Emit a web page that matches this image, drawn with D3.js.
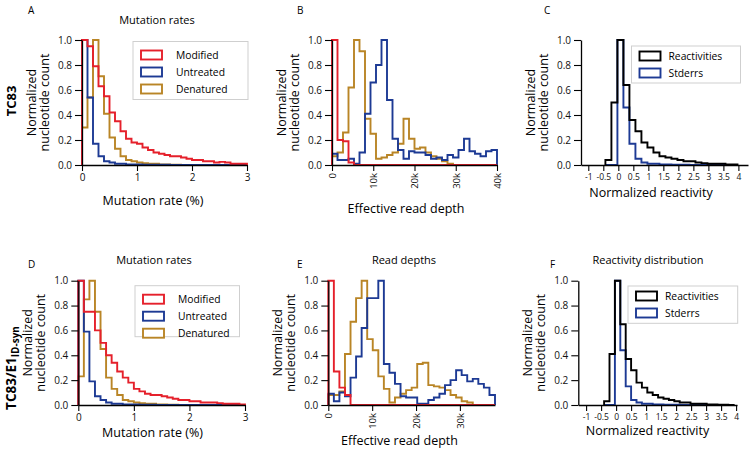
<!DOCTYPE html>
<html><head><meta charset="utf-8">
<script src="https://cdn.jsdelivr.net/npm/d3@7"></script>
<style>
body{margin:0;background:#fff;}
svg{display:block;font-family:"Open Sans",sans-serif;}
</style></head>
<body><svg id="chart" width="750" height="454"></svg>
<script>
// ---------------- DATA ----------------
const seriesNames = ["Modified", "Untreated", "Denatured"];
const reactNames = ["Reactivities", "Stderrs"];
const yTicks = [0, 0.2, 0.4, 0.6, 0.8, 1.0];
const mutTicks = [0, 1, 2, 3];
const depthTicksB = [0, 10000, 20000, 30000, 40000];
const depthTicksE = [0, 10000, 20000, 30000];
const reactTicks = [-1, -0.5, 0, 0.5, 1, 1.5, 2, 2.5, 3, 3.5, 4];

// Panel A (TC83 mutation rates, bins of 0.1 %)
const mutBinStart = 0, mutBinWidth = 0.1;
const modA = [1.0,0.95,0.79,0.63,0.55,0.42,0.35,0.27,0.21,0.18,0.17,0.14,0.12,0.10,0.09,0.08,0.07,0.07,0.06,0.05,0.04,0.04,0.03,0.03,0.02,0.025,0.02,0.01,0.01,0.01];
const untA = [1.0,0.54,0.17,0.07,0.03,0.02,0.01,0.01,0.005,0.005,0.004,0.003,0.003,0.002,0.002,0.002,0.001,0.001,0.001,0.001,0.001,0,0,0,0,0,0,0,0,0];
const denA = [0.30,0.54,1.0,0.71,0.41,0.22,0.13,0.07,0.04,0.03,0.02,0.015,0.01,0.01,0.005,0.005,0.003,0.002,0.001,0.001,0,0,0,0,0,0,0,0,0,0];

// Panel D (TC83/E1 ID-syn mutation rates)
const modD = [1.0,0.75,0.75,0.60,0.50,0.40,0.34,0.27,0.22,0.18,0.13,0.11,0.09,0.08,0.08,0.07,0.06,0.05,0.04,0.04,0.03,0.03,0.02,0.02,0.02,0.015,0.01,0.01,0.01,0.005];
const untD = [1.0,0.59,0.19,0.07,0.04,0.02,0.01,0.01,0.005,0.005,0.004,0.003,0.002,0.002,0.001,0.001,0.001,0,0,0,0,0,0,0,0,0,0,0,0,0];
const denD = [0.23,0.85,1.0,0.75,0.45,0.22,0.13,0.08,0.04,0.03,0.02,0.015,0.01,0.01,0.005,0.005,0.003,0.002,0.001,0,0,0,0,0,0,0,0,0,0,0];

// Panel B (TC83 effective read depth, 30 bins over 0-40k)
const depthBinStartB = 0, depthBinWidthB = 40000 / 30;
const modB = [1.0,0.2,0.19,0.02,0,0,0,0,0,0,0,0,0,0,0,0,0,0,0,0,0,0,0,0,0,0,0,0,0,0];
const untB = [0.09,0.04,0.04,0.05,0.01,0.1,0.41,0.66,0.8,1.0,0.52,0.21,0.12,0.05,0.11,0.1,0.1,0.08,0.05,0.06,0.04,0.08,0.06,0.12,0.21,0.11,0.09,0.07,0.11,0.12];
const denB = [0.07,0.1,0.26,0.62,1.0,0.91,0.37,0.25,0.05,0.06,0.08,0.1,0.17,0.37,0.21,0.13,0.14,0.1,0.07,0.05,0.03,0.01,0,0,0,0,0,0,0,0];

// Panel E (TC83/E1 read depths, 30 bins over 0-38k)
const depthBinStartE = 0, depthBinWidthE = 38000 / 30;
const modE = [1.0,0.27,0.14,0.08,0,0,0,0,0,0,0,0,0,0,0,0,0,0,0,0,0,0,0,0,0,0,0,0,0,0];
const untE = [0.09,0.03,0.1,0.07,0.22,0.39,0.62,0.86,0.86,1.0,0.33,0.26,0.17,0.07,0.06,0.06,0.01,0.01,0.04,0.06,0.09,0.16,0.2,0.28,0.24,0.19,0.21,0.17,0.14,0.08];
const denE = [0.08,0.08,0.11,0.41,0.67,0.86,1.0,0.53,0.44,0.23,0.13,0.02,0.06,0.09,0.12,0.14,0.33,0.34,0.16,0.15,0.14,0.12,0.08,0.06,0.03,0.02,0,0,0,0];

// Panel C (TC83 normalized reactivity)
const reactBinStartC = -0.43, reactBinWidthC = 0.2;
const reactC = [0.04,0.5,1.0,0.64,0.36,0.27,0.18,0.14,0.1,0.07,0.06,0.05,0.04,0.03,0.03,0.02,0.015,0.01,0.01,0.01,0.005,0.005];
const stderrC = [0,0,1.0,0.46,0.17,0.05,0.02,0.01,0.01,0.005,0.005,0.003,0.002,0.002,0.001,0.001,0,0,0,0,0,0];

// Panel F (TC83/E1 reactivity distribution)
const reactBinStartF = -0.40, reactBinWidthF = 0.18;
const reactF = [0.03,0.41,1.0,0.65,0.37,0.28,0.18,0.14,0.1,0.08,0.06,0.05,0.04,0.03,0.02,0.02,0.01,0.01,0.01,0.005,0.005,0.003,0.002,0.001];
const stderrF = [0,0,1.0,0.44,0.15,0.04,0.02,0.01,0.01,0.005,0.005,0.003,0.002,0.002,0.001,0.001,0,0,0,0,0,0,0,0];

// ---------------- STYLE / LAYOUT ----------------
const C_RED = "#e5202b", C_BLUE = "#1d3a94", C_GOLD = "#b98526", C_BLACK = "#000";
const svg = d3.select("#chart");

function histPath(x, y, start, width, vals) {
  const pts = [[start, 0]];
  vals.forEach((v, i) => pts.push([start + i * width, v]));
  pts.push([start + vals.length * width, vals[vals.length - 1]]);
  pts.push([start + vals.length * width, 0]);
  return d3.line().x(d => x(d[0])).y(d => y(d[1])).curve(d3.curveStepAfter)(pts);
}

function panel(opt) {
  const g = svg.append("g");
  const x = d3.scaleLinear().domain(opt.domain).range([opt.x0, opt.x1]);
  const y = d3.scaleLinear().domain([0, 1]).range([opt.yb, opt.yt]);

  opt.series.forEach(s => {
    g.append("path").attr("d", histPath(x, y, opt.binStart, opt.binWidth, s.values))
      .attr("fill", "none").attr("stroke", s.color).attr("stroke-width", 1.9)
      .attr("stroke-linejoin", "miter");
  });

  const ya = g.append("g").attr("transform", `translate(${opt.x0},0)`)
    .call(d3.axisLeft(y).tickValues(yTicks).tickFormat(d3.format(".1f")).tickSize(7).tickPadding(3).tickSizeOuter(0));
  ya.selectAll("text").attr("font-size", 10).attr("font-family", "Open Sans").attr("fill", "#111");
  const xa = g.append("g").attr("transform", `translate(0,${opt.yb})`)
    .call(d3.axisBottom(x).tickValues(opt.ticks).tickFormat(opt.fmt).tickSize(6).tickSizeOuter(0));
  xa.selectAll("text").attr("font-size", opt.tickFont || 10).attr("font-family", "Open Sans").attr("fill", "#111");
  if (opt.rotateTicks) {
    xa.selectAll("text").attr("transform", "rotate(-90)").attr("text-anchor", "end")
      .attr("x", -8).attr("y", 0).attr("dy", "0.35em");
  }
  [ya, xa].forEach(a => {
    a.select(".domain").attr("stroke", "#000").attr("stroke-width", 1.3);
    a.selectAll(".tick line").attr("stroke", "#000").attr("stroke-width", 1.1);
  });

  const yc = (opt.yt + opt.yb) / 2;
  [["Normalized", -46], ["nucleotide count", -33]].forEach(([t, dx]) => {
    g.append("text").attr("transform", `translate(${opt.x0 + dx},${yc}) rotate(-90)`)
      .attr("text-anchor", "middle").attr("font-size", 12.5).text(t);
  });
  g.append("text").attr("x", opt.xlab[0]).attr("y", opt.xlab[1]).attr("text-anchor", "middle")
    .attr("font-size", 12.5).text(opt.xlabel);
  if (opt.title) g.append("text").attr("x", opt.titlePos[0]).attr("y", opt.titlePos[1])
    .attr("text-anchor", "middle").attr("font-size", 11).text(opt.title);
  g.append("text").attr("x", opt.letterPos[0]).attr("y", opt.letterPos[1])
    .attr("font-size", 10).text(opt.letter);

  if (opt.legend) {
    const L = opt.legend;
    g.append("rect").attr("x", L.x).attr("y", L.y).attr("width", L.w).attr("height", L.h)
      .attr("fill", "#fff").attr("stroke", "#cfcfcf").attr("stroke-width", 1);
    L.items.forEach((it, i) => {
      const cy = L.y + L.first + i * L.step;
      g.append("rect").attr("x", L.x + 8).attr("y", cy - 4.5).attr("width", 21).attr("height", 9)
        .attr("fill", "#fff").attr("stroke", it.color).attr("stroke-width", 1.9);
      g.append("text").attr("x", L.x + L.tx).attr("y", cy + 3.6).attr("font-size", 10.3).text(it.name);
    });
  }
}

const mutSeries = (mod, unt, den) => [
  { color: C_GOLD, values: den }, { color: C_BLUE, values: unt }, { color: C_RED, values: mod }];
const mutLegend = (x, y, w, h) => ({ x, y, w, h, first: 13.5, step: 17, tx: 43,
  items: [{ name: seriesNames[0], color: C_RED }, { name: seriesNames[1], color: C_BLUE }, { name: seriesNames[2], color: C_GOLD }] });
const reactLegend = (x, y, w, h) => ({ x, y, w, h, first: 10, step: 17, tx: 37,
  items: [{ name: reactNames[0], color: C_BLACK }, { name: reactNames[1], color: C_BLUE }] });
const kfmt = d => d === 0 ? "0" : (d / 1000) + "k";
const rfmt = d => String(d);

// Row 1
panel({ x0: 82, x1: 247, yt: 40, yb: 165, domain: [0, 3], ticks: mutTicks, fmt: d3.format("d"),
  binStart: mutBinStart, binWidth: mutBinWidth, series: mutSeries(modA, untA, denA),
  xlabel: "Mutation rate (%)", xlab: [153, 205], title: "Mutation rates", titlePos: [157, 24],
  letter: "A", letterPos: [28, 14], legend: mutLegend(133, 41.5, 115, 58) });
panel({ x0: 332, x1: 497, yt: 40, yb: 165, domain: [0, 40000], ticks: depthTicksB, fmt: kfmt, rotateTicks: true, tickFont: 9.5,
  binStart: depthBinStartB, binWidth: depthBinWidthB, series: mutSeries(modB, untB, denB),
  xlabel: "Effective read depth", xlab: [406, 213], letter: "B", letterPos: [297, 14] });
panel({ x0: 581, x1: 748, yt: 40, yb: 165, domain: [-1.243, 4.32], ticks: reactTicks, fmt: rfmt, tickFont: 8.5,
  binStart: reactBinStartC, binWidth: reactBinWidthC,
  series: [{ color: C_BLUE, values: stderrC }, { color: C_BLACK, values: reactC }],
  xlabel: "Normalized reactivity", xlab: [651, 197], letter: "C", letterPos: [544, 14],
  legend: reactLegend(631.5, 46, 109, 37) });

// Row 2
panel({ x0: 78.3, x1: 245, yt: 280.7, yb: 405, domain: [0, 3], ticks: mutTicks, fmt: d3.format("d"),
  binStart: mutBinStart, binWidth: mutBinWidth, series: mutSeries(modD, untD, denD),
  xlabel: "Mutation rate (%)", xlab: [152.5, 437], title: "Mutation rates", titlePos: [154, 264],
  letter: "D", letterPos: [28, 267.7], legend: mutLegend(135, 285.7, 104.5, 51) });
panel({ x0: 328.3, x1: 495, yt: 280.7, yb: 405, domain: [0, 38000], ticks: depthTicksE, fmt: kfmt, rotateTicks: true, tickFont: 9.5,
  binStart: depthBinStartE, binWidth: depthBinWidthE, series: mutSeries(modE, untE, denE),
  xlabel: "Effective read depth", xlab: [399.5, 445], title: "Read depths", titlePos: [404, 264],
  letter: "E", letterPos: [297, 267.7] });
panel({ x0: 578.3, x1: 737, yt: 280.7, yb: 405, domain: [-1.26, 4.03], ticks: reactTicks, fmt: rfmt, tickFont: 8.5,
  binStart: reactBinStartF, binWidth: reactBinWidthF,
  series: [{ color: C_BLUE, values: stderrF }, { color: C_BLACK, values: reactF }],
  xlabel: "Normalized reactivity", xlab: [647.5, 435], title: "Reactivity distribution", titlePos: [648, 264],
  letter: "F", letterPos: [550, 267.7], legend: reactLegend(628, 286, 109.7, 37.3) });

// Row labels
svg.append("text").attr("transform", "translate(16,101) rotate(-90)").attr("text-anchor", "middle")
  .attr("font-size", 13).attr("font-weight", "bold").text("TC83");
const rl = svg.append("text").attr("transform", "translate(16,368) rotate(-90)").attr("text-anchor", "middle")
  .attr("font-size", 13.5).attr("font-weight", "bold");
rl.append("tspan").text("TC83/E1");
rl.append("tspan").attr("dy", 3).attr("font-size", 10).text("ID-syn");
</script></body></html>
